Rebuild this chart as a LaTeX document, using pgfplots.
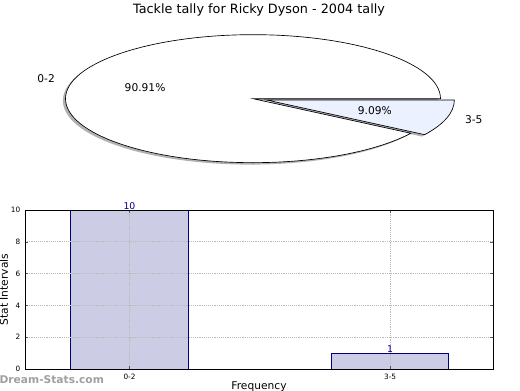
\documentclass[border=0pt]{standalone}
\usepackage{pgfplots}
\pgfplotsset{compat=1.18}
\usepackage{fontspec}
\setmainfont{DejaVu Sans}
\definecolor{barfill}{RGB}{204,204,229}
\definecolor{baredge}{RGB}{0,0,128}
\definecolor{slicetwo}{RGB}{236,241,255}
\begin{document}
\begin{tikzpicture}
\useasboundingbox (0,0) rectangle (390pt,-292.5pt);
\clip (0,0) rectangle (390pt,-292.5pt);
\node[font=\fontsize{9.6}{11}\selectfont] at (194.25pt,-7.5pt) {Tackle tally for Ricky Dyson - 2004 tally};
\pgfmathsetmacro\va{10}
\pgfmathsetmacro\vb{1}
\pgfmathsetmacro\angA{360*\va/(\va+\vb)}
\pgfmathsetmacro\midB{(\angA+360)/2}
\pgfmathsetmacro\midA{\angA/2}
\pgfmathsetmacro\ox{0.077*cos(\midB)}
\pgfmathsetmacro\oy{0.077*sin(\midB)}
\pgfmathsetmacro\sx{\ox+cos(\angA)}
\pgfmathsetmacro\sy{\oy+sin(\angA)}
\pgfmathsetmacro\shx{-0.014}
\pgfmathsetmacro\shy{-0.03}
\begin{axis}[hide axis, scale only axis, width=365.625pt, height=124.8pt,
  xmin=-1.3,xmax=1.3,ymin=-1.3,ymax=1.3, clip=false, anchor=center, at={(189.75pt,-74pt)}]
% shadows
\fill[gray!60] (axis cs:\shx,\shy) -- (axis cs:{1+\shx},\shy) arc[start angle=0,end angle=\angA,x radius=140.625pt,y radius=48pt] -- cycle;
\fill[gray!60] (axis cs:{\ox+\shx},{\oy+\shy}) -- (axis cs:{\sx+\shx},{\sy+\shy}) arc[start angle=\angA,end angle=360,x radius=140.625pt,y radius=48pt] -- cycle;
% slices
\draw[fill=white, line width=0.5pt] (axis cs:0,0) -- (axis cs:1,0) arc[start angle=0,end angle=\angA,x radius=140.625pt,y radius=48pt] -- cycle;
\draw[fill=slicetwo, line width=0.5pt] (axis cs:\ox,\oy) -- (axis cs:\sx,\sy) arc[start angle=\angA,end angle=360,x radius=140.625pt,y radius=48pt] -- cycle;
\node[anchor=east, font=\fontsize{8}{9}\selectfont, inner sep=0pt] at (axis cs:{1.1*cos(\midA)},{1.1*sin(\midA)}) {0-2};
\node[font=\fontsize{8}{9}\selectfont, inner sep=0pt] at (axis cs:{0.6*cos(\midA)},{0.6*sin(\midA)}) {90.91\%};
\node[font=\fontsize{8}{9}\selectfont, inner sep=0pt] at (axis cs:{\ox+0.6*cos(\midB)},{\oy+0.6*sin(\midB)}) {9.09\%};
\node[anchor=west, font=\fontsize{8}{9}\selectfont, inner sep=0pt] at (axis cs:{\ox+1.1*cos(\midB)},{\oy+1.1*sin(\midB)}) {3-5};
\end{axis}
\begin{axis}[scale only axis, width=351pt, height=119.25pt, anchor=south west, at={(18.75pt,-276.75pt)},
  xmin=-0.401, xmax=1.395, ymin=0, ymax=10,
  xtick={0,1}, xticklabels={0-2,3-5}, ytick={0,2,...,10},
  /pgf/number format/assume math mode=true,
  tick label style={font=\fontsize{5.5}{6}\selectfont},
  grid=major, grid style={densely dotted, gray!55, line width=0.5pt},
  axis on top, tick align=inside, major tick length=2pt,
  tick style={gray!70!black, line width=0.4pt},
  ylabel={Stat Intervals}, xlabel={Frequency},
  label style={font=\fontsize{8}{9}\selectfont},
  ylabel style={at={(axis description cs:-0.0449,0.5)},anchor=center},
  xlabel style={at={(axis description cs:0.5,-0.11)},anchor=center},
  clip=false, axis line style={line width=0.6pt},
  nodes near coords,
  nodes near coords style={font=\fontsize{7}{8}\selectfont, text=baredge, anchor=south, inner sep=0.3pt}]
\addplot[ybar, bar width=0.45, fill=barfill, draw=baredge, line width=0.6pt] coordinates {(0,10) (1,1)};
\end{axis}
\node[anchor=west, text=gray!75, font=\bfseries\fontsize{8}{9}\selectfont, inner sep=0pt] at (-0.5pt,-285pt) {Dream-Stats.com};
\end{tikzpicture}
\end{document}
